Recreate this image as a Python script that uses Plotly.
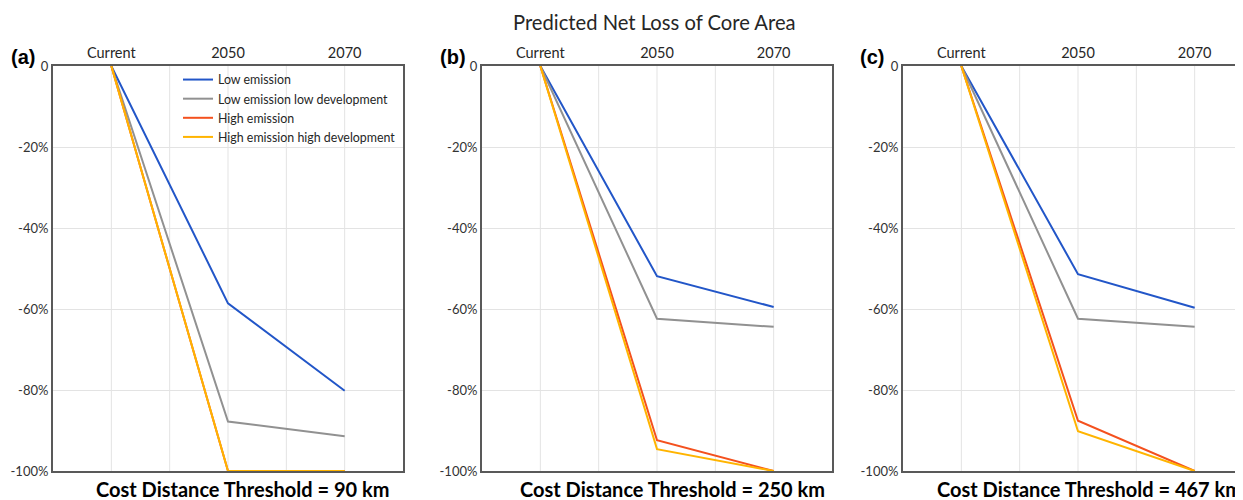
import plotly.graph_objects as go

# ---- data ----
periods = ["Current", "2050", "2070"]
scenarios = ["Low emission", "Low emission low development", "High emission", "High emission high development"]
colors = ["#2256c8", "#919191", "#f4511e", "#ffb400"]

# panel (a): Cost Distance Threshold = 90 km
a_low = [0, -0.586, -0.802]
a_lowdev = [0, -0.878, -0.914]
a_high = [0, -1.0, -1.0]
a_highdev = [0, -1.0, -1.0]

# panel (b): Cost Distance Threshold = 250 km
b_low = [0, -0.519, -0.595]
b_lowdev = [0, -0.624, -0.644]
b_high = [0, -0.924, -1.0]
b_highdev = [0, -0.946, -1.0]

# panel (c): Cost Distance Threshold = 467 km
c_low = [0, -0.514, -0.597]
c_lowdev = [0, -0.624, -0.644]
c_high = [0, -0.876, -1.0]
c_highdev = [0, -0.902, -1.0]

panel_labels = ["(a)", "(b)", "(c)"]
panel_titles = ["Cost Distance Threshold = 90 km", "Cost Distance Threshold = 250 km",
                "Cost Distance Threshold = 467 km"]
y_ticks = [0, -0.2, -0.4, -0.6, -0.8, -1.0]
y_ticktext = ["0", "-20%", "-40%", "-60%", "-80%", "-100%"]
main_title = "Predicted Net Loss of Core Area"

panels = [
    [a_low, a_lowdev, a_high, a_highdev],
    [b_low, b_lowdev, b_high, b_highdev],
    [c_low, c_lowdev, c_high, c_highdev],
]

# ---- layout geometry (page has an 8px body margin) ----
OFF = 8
W, H = 1243 - OFF, 500 - OFF
ML, MR, MT, MB = 53 - OFF, 0, 66 - OFF, 29
PW = W - ML - MR
PH = H - MT - MB
unit = 350 / 6.0
left_px = [53, 482, 903]   # window pixels

def px2x(p):
    return (p - OFF - ML) / PW

def py2y(p):
    return 1 - (p - OFF - MT) / PH

x_pos = [1, 3, 5]

fig = go.Figure()
for i, series in enumerate(panels):
    xa = "x" if i == 0 else f"x{i+1}"
    ya = "y" if i == 0 else f"y{i+1}"
    for j, vals in enumerate(series):
        fig.add_trace(go.Scatter(
            x=x_pos, y=vals, mode="lines", name=scenarios[j],
            line=dict(color=colors[j], width=2),
            showlegend=(i == 0), xaxis=xa, yaxis=ya, hoverinfo="skip",
        ))

FONT = "Lato, Open Sans, sans-serif"
axis_line = "#595959"
grid_col = "#e3e3e3"
tick_font = dict(family=FONT, size=14.5, color="#262626")

for i in range(3):
    l = left_px[i]
    r = min(l + 350, 1243)
    xkey = "xaxis" if i == 0 else f"xaxis{i+1}"
    ykey = "yaxis" if i == 0 else f"yaxis{i+1}"
    ynum = "y" if i == 0 else f"y{i+1}"
    xnum = "x" if i == 0 else f"x{i+1}"
    fig.layout[xkey] = dict(
        domain=[px2x(l), min(px2x(r), 1.0)], range=[0, (r - l) / unit], anchor=ynum,
        side="top", tickmode="array", tickvals=x_pos, ticktext=periods,
        showgrid=False, zeroline=False, showline=True, linecolor=axis_line, linewidth=2,
        mirror=True, ticks="", tickfont=tick_font, fixedrange=True, layer="below traces",
    )
    fig.layout[ykey] = dict(
        domain=[0, 1], range=[-1, 0], anchor=xnum,
        tickmode="array", tickvals=y_ticks, ticktext=y_ticktext,
        showgrid=True, gridcolor=grid_col, gridwidth=1, zeroline=False,
        showline=True, linecolor=axis_line, linewidth=2, mirror=(i < 2),
        ticks="", tickfont=dict(family=FONT, size=13, color="#333333"),
        fixedrange=True, layer="below traces",
    )

# vertical grid lines at each unit (Excel-style category grid)
shapes = []
for i in range(3):
    xnum = "x" if i == 0 else f"x{i+1}"
    ynum = "y" if i == 0 else f"y{i+1}"
    for g in [1, 2, 3, 4, 5]:
        shapes.append(dict(type="line", xref=xnum, yref=ynum, x0=g, x1=g, y0=-1, y1=0,
                           line=dict(color=grid_col, width=1), layer="below"))

annotations = []
label_cx = [23, 453, 872]
title_cx = [243, 672, 1089]
for i in range(3):
    annotations.append(dict(
        text=f"<b>{panel_labels[i]}</b>", x=px2x(label_cx[i]), y=py2y(57), xref="paper", yref="paper",
        showarrow=False, xanchor="center", yanchor="middle",
        font=dict(family="Liberation Sans, Arial, sans-serif", size=20, color="#000000"),
    ))
    annotations.append(dict(
        text=f"<b>{panel_titles[i]}</b>", x=px2x(title_cx[i]), y=py2y(489), xref="paper", yref="paper",
        showarrow=False, xanchor="center", yanchor="middle",
        font=dict(family=FONT, size=20, color="#000000"),
    ))
annotations.append(dict(
    text=main_title, x=px2x(654), y=py2y(22), xref="paper", yref="paper",
    showarrow=False, xanchor="center", yanchor="middle",
    font=dict(family=FONT, size=20.2, color="#262626"),
))

fig.update_layout(
    width=W, height=H, margin=dict(l=ML, r=MR, t=MT, b=MB, autoexpand=False),
    paper_bgcolor="white", plot_bgcolor="white",
    shapes=shapes, annotations=annotations,
    legend=dict(
        x=px2x(178), y=py2y(65), xanchor="left", yanchor="top",
        bgcolor="rgba(255,255,255,0)", borderwidth=0,
        font=dict(family=FONT, size=12.4, color="#262626"),
        itemwidth=30, tracegroupgap=0,
    ),
    showlegend=True,
)

fig.write_html("out.html")
